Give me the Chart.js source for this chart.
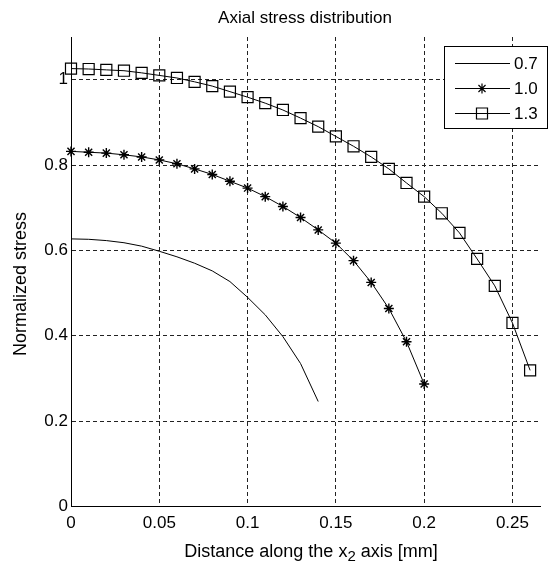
<!DOCTYPE html>
<html><head><meta charset="utf-8">
<script src="https://cdn.jsdelivr.net/npm/chart.js@4/dist/chart.umd.min.js"></script>
<style>html,body{margin:0;padding:0;background:#fff}#wrap{width:549px;height:564px}</style>
</head><body><div id="wrap"><canvas id="c" width="549" height="564"></canvas></div>
<script>
// ---- data ----
const xPositions = [0,0.01,0.02,0.03,0.04,0.05,0.06,0.07,0.08,0.09,0.10,0.11,0.12,0.13,0.14,0.15,0.16,0.17,0.18,0.19,0.20,0.21,0.22,0.23,0.24,0.25,0.26];
const series07 = [0.627,0.626,0.623,0.618,0.610,0.598,0.585,0.570,0.552,0.527,0.490,0.449,0.398,0.335,0.246];
const series10 = [0.832,0.830,0.828,0.824,0.819,0.812,0.803,0.791,0.778,0.762,0.746,0.726,0.703,0.677,0.648,0.617,0.576,0.525,0.464,0.386,0.287];
const series13 = [1.026,1.025,1.023,1.021,1.016,1.010,1.004,0.995,0.985,0.972,0.959,0.945,0.929,0.910,0.890,0.867,0.844,0.819,0.791,0.758,0.726,0.687,0.641,0.580,0.517,0.430,0.319];
const seriesLabels = ['0.7','1.0','1.3'];
const xTicks = [0,0.05,0.1,0.15,0.2,0.25];
const yTicks = [0,0.2,0.4,0.6,0.8,1];
const titleText = 'Axial stress distribution';
const yTitle = 'Normalized stress';
const xTitleParts = ['Distance along the x', '2', ' axis [mm]'];

const FONT = "'Liberation Sans', Arial, sans-serif";
const toXY = arr => arr.map((v, i) => ({x: xPositions[i], y: v}));

const labelsPlugin = {
  id: 'labels',
  afterDraw(chart) {
    const ctx = chart.ctx;
    ctx.save();
    ctx.fillStyle = '#000';
    ctx.font = '17px ' + FONT;
    ctx.textAlign = 'center';
    ctx.textBaseline = 'middle';
    ctx.fillText(titleText, 305, 18);
    // x title with subscript
    ctx.font = '18px ' + FONT;
    const w0 = ctx.measureText(xTitleParts[0]).width;
    ctx.font = '15px ' + FONT;
    const w1 = ctx.measureText(xTitleParts[1]).width;
    ctx.font = '18px ' + FONT;
    const w2 = ctx.measureText(xTitleParts[2]).width;
    let x = 311 - (w0 + w1 + w2) / 2;
    ctx.textAlign = 'left';
    ctx.fillText(xTitleParts[0], x, 552); x += w0;
    ctx.font = '15px ' + FONT;
    ctx.fillText(xTitleParts[1], x, 557); x += w1;
    ctx.font = '18px ' + FONT;
    ctx.fillText(xTitleParts[2], x, 552);
    // y title
    ctx.translate(21, 284);
    ctx.rotate(-Math.PI / 2);
    ctx.textAlign = 'center';
    ctx.fillText(yTitle, 0, 0);
    ctx.restore();
  }
};

function marker(ctx, style, r, x, y) {
  if (Chart.helpers && Chart.helpers.drawPoint) {
    Chart.helpers.drawPoint(ctx, {pointStyle: style, radius: r, rotation: 0, borderWidth: 1.2}, x, y);
  }
}

const legendPlugin = {
  id: 'boxLegend',
  afterDatasetsDraw(chart) {
    const ctx = chart.ctx;
    ctx.save();
    ctx.fillStyle = '#fff';
    ctx.fillRect(444.5, 46.5, 103, 82);
    ctx.strokeStyle = '#000';
    ctx.lineWidth = 1;
    ctx.strokeRect(444.5, 46.5, 103, 82);
    const ys = [63, 88, 113];
    chart.data.datasets.forEach((ds, i) => {
      const y = ys[i];
      ctx.strokeStyle = '#000';
      ctx.lineWidth = 1;
      ctx.beginPath(); ctx.moveTo(455, y + 0.5); ctx.lineTo(510, y + 0.5); ctx.stroke();
      if (ds.pointRadius > 0) {
        ctx.strokeStyle = '#000';
        ctx.fillStyle = ds.pointBackgroundColor;
        ctx.lineWidth = 1.2;
        marker(ctx, ds.pointStyle, ds.pointRadius, 482, y + 0.5);
      }
      ctx.fillStyle = '#000';
      ctx.font = '17px ' + FONT;
      ctx.textAlign = 'left';
      ctx.textBaseline = 'middle';
      ctx.fillText(seriesLabels[i], 514, y + 1);
    });
    ctx.restore();
  }
};

new Chart(document.getElementById('c'), {
  type: 'line',
  data: {
    datasets: [
      {label: seriesLabels[0], data: toXY(series07), borderColor: '#000', borderWidth: 1, pointRadius: 0, pointStyle: 'circle', pointBackgroundColor: '#000', tension: 0, fill: false, clip: false},
      {label: seriesLabels[1], data: toXY(series10), borderColor: '#000', borderWidth: 1, pointRadius: 5, pointStyle: 'star', pointBorderColor: '#000', pointBackgroundColor: '#000', pointBorderWidth: 1.4, tension: 0, fill: false, clip: false},
      {label: seriesLabels[2], data: toXY(series13), borderColor: '#000', borderWidth: 1, pointRadius: 7.8, pointStyle: 'rect', pointBorderColor: '#000', pointBackgroundColor: 'rgba(0,0,0,0)', pointBorderWidth: 1.2, tension: 0, fill: false, clip: false}
    ]
  },
  options: {
    responsive: false,
    animation: false,
    devicePixelRatio: 1,
    layout: {padding: {top: 37, left: 0, right: 0, bottom: 0}},
    plugins: {legend: {display: false}, tooltip: {enabled: false}, title: {display: false}},
    scales: {
      x: {
        type: 'linear', min: 0, max: 0.2656,
        afterBuildTicks: s => { s.ticks = xTicks.map(v => ({value: v})); },
        afterFit: s => { s.height = 57.5; },
        grid: {color: '#222', lineWidth: 1, drawTicks: false},
        border: {display: true, color: '#000', width: 1, dash: [4, 3]},
        ticks: {color: '#000', font: {family: FONT, size: 17}, padding: 7, maxRotation: 0, callback: v => String(v)}
      },
      y: {
        type: 'linear', min: 0, max: 1.1,
        afterBuildTicks: s => { s.ticks = yTicks.map(v => ({value: v})); },
        afterFit: s => { s.width = 71; },
        grid: {color: '#222', lineWidth: 1, drawTicks: false},
        border: {display: true, color: '#000', width: 1, dash: [4, 3]},
        ticks: {color: '#000', font: {family: FONT, size: 17}, padding: 3, callback: v => String(v)}
      }
    }
  },
  plugins: [labelsPlugin, legendPlugin]
});
</script></body></html>
